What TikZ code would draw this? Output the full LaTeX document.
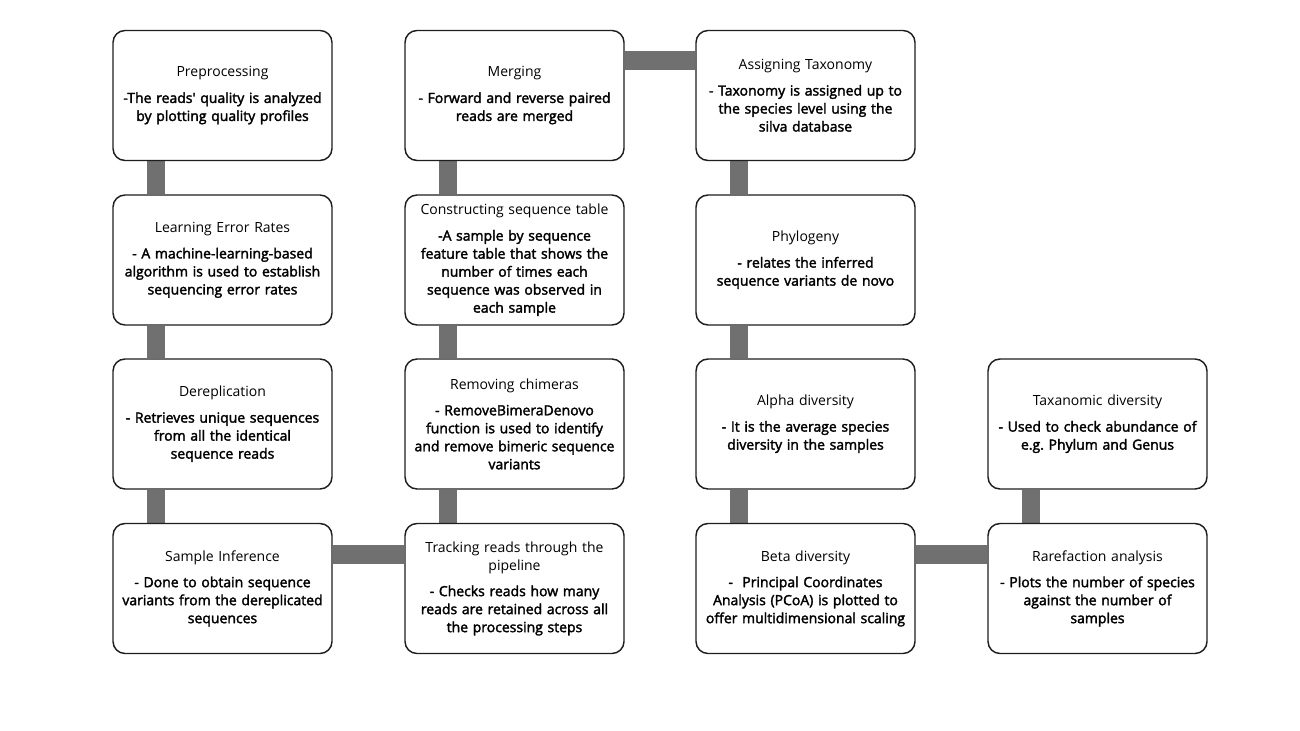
\documentclass[tikz,border=0pt]{standalone}
\usepackage{fontspec}
\setmainfont{Open Sans}[BoldFont={Open Sans}, BoldFeatures={FakeBold=2.2}]
\usepackage{tikz}
\usetikzlibrary{calc, backgrounds}
\definecolor{bargray}{RGB}{112,112,112}
\definecolor{boxline}{RGB}{30,30,30}
\frenchspacing

\begin{document}
\begin{tikzpicture}[x=0.75pt, y=-0.75pt, line join=round,
	stepbox/.style={draw=boxline, line width=1.1pt, rounded corners=9pt, fill=white,
		minimum width=164.25pt, minimum height=97.5pt, text width=160pt, align=center,
		inner sep=1pt, font=\fontsize{10.5}{13.5}\selectfont},
	bar/.style={draw=bargray, line width=13.9pt, line cap=butt}]
	\useasboundingbox (0,0) rectangle (1300,731);

	% first column
	\node[stepbox] (pre) at (222.5,95.5) {Preprocessing\\[6pt]\bfseries -The reads\textquotesingle{} quality is analyzed\\by plotting quality profiles};
	\node[stepbox] (err) at (222.5,260) {Learning Error Rates\\[6pt]\bfseries - A machine-learning-based\\algorithm is used to establish\\sequencing error rates};
	\node[stepbox] (derep) at (222.5,424) {Dereplication\\[6pt]\bfseries - Retrieves unique sequences\\from all the identical\\sequence reads};
	\node[stepbox] (infer) at (222.5,588.5) {Sample Inference\\[6pt]\bfseries - Done to obtain sequence\\variants from the dereplicated\\sequences};

	% second column
	\node[stepbox] (merge) at (514.5,95.5) {Merging\\[6pt]\bfseries - Forward and reverse paired\\reads are merged};
	\node[stepbox] (seqtab) at (514.5,260) {Constructing sequence table\\[6pt]\bfseries -A sample by sequence\\feature table that shows the\\number of times each\\sequence was observed in\\each sample};
	\node[stepbox] (chim) at (514.5,424) {Removing chimeras\\[6pt]\bfseries - RemoveBimeraDenovo\\function is used to identify\\and remove bimeric sequence\\variants};
	\node[stepbox] (track) at (514.5,588.5) {Tracking reads through the\\pipeline\\[6pt]\bfseries - Checks reads how many\\reads are retained across all\\the processing steps};

	% third column
	\node[stepbox] (tax) at (805.5,95.5) {Assigning Taxonomy\\[6pt]\bfseries - Taxonomy is assigned up to\\the species level using the\\silva database};
	\node[stepbox] (phylo) at (805.5,260) {Phylogeny\\[6pt]\bfseries - relates the inferred\\sequence variants de novo};
	\node[stepbox] (alpha) at (805.5,424) {Alpha diversity\\[6pt]\bfseries - It is the average species\\diversity in the samples};
	\node[stepbox] (beta) at (805.5,588.5) {Beta diversity\\[6pt]\bfseries -~~Principal Coordinates\\Analysis (PCoA) is plotted to\\offer multidimensional scaling};

	% fourth column
	\node[stepbox] (taxdiv) at (1097.5,424) {Taxanomic diversity\\[6pt]\bfseries - Used to check abundance of\\e.g. Phylum and Genus};
	\node[stepbox] (rare) at (1097.5,588.5) {Rarefaction analysis\\[6pt]\bfseries - Plots the number of species\\against the number of\\samples};

	% connecting bars
	\begin{scope}[on background layer]
		\draw[bar] ($(pre.south west)+(43.5,0)$) -- ($(err.north west)+(43.5,0)$);
		\draw[bar] ($(err.south west)+(43.5,0)$) -- ($(derep.north west)+(43.5,0)$);
		\draw[bar] ($(derep.south west)+(43.5,0)$) -- ($(infer.north west)+(43.5,0)$);
		\draw[bar] ($(infer.north east)+(0,31.5)$) -- ($(track.north west)+(0,31.5)$);
		\draw[bar] ($(track.north west)+(43.5,0)$) -- ($(chim.south west)+(43.5,0)$);
		\draw[bar] ($(chim.north west)+(43.5,0)$) -- ($(seqtab.south west)+(43.5,0)$);
		\draw[bar] ($(seqtab.north west)+(43.5,0)$) -- ($(merge.south west)+(43.5,0)$);
		\draw[bar] ($(merge.north east)+(0,31)$) -- ($(tax.north west)+(0,31)$);
		\draw[bar] ($(tax.south west)+(43.5,0)$) -- ($(phylo.north west)+(43.5,0)$);
		\draw[bar] ($(phylo.south west)+(43.5,0)$) -- ($(alpha.north west)+(43.5,0)$);
		\draw[bar] ($(alpha.south west)+(43.5,0)$) -- ($(beta.north west)+(43.5,0)$);
		\draw[bar] ($(beta.north east)+(0,31.5)$) -- ($(rare.north west)+(0,31.5)$);
		\draw[bar] ($(rare.north west)+(43.5,0)$) -- ($(taxdiv.south west)+(43.5,0)$);
	\end{scope}
\end{tikzpicture}
\end{document}
